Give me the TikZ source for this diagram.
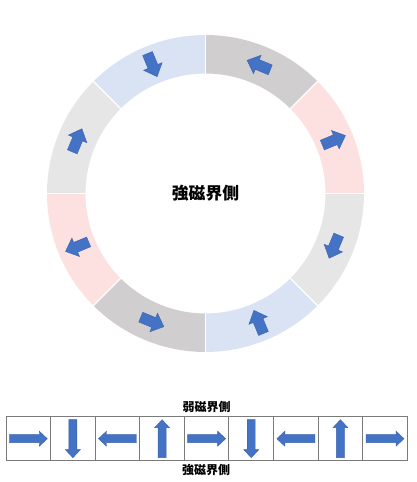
\documentclass[tikz,border=0pt]{standalone}
\usepackage{fontspec}
\newfontfamily\cjk{Noto Sans CJK JP}
\definecolor{segblue}{HTML}{DAE3F3}
\definecolor{seggray}{HTML}{D0CECE}
\definecolor{segpink}{HTML}{FDE0E0}
\definecolor{seglight}{HTML}{E7E6E6}
\definecolor{arrowfill}{HTML}{4472C4}
\definecolor{arrowedge}{HTML}{3A63AE}
\definecolor{cellline}{HTML}{7A7A7A}
\tikzset{
  arrowstyle/.style={fill=arrowfill, draw=arrowedge, line width=0.4pt, line join=miter},
  pics/barrow/.style n args={4}{code={%
    \filldraw[arrowstyle] (-#1/2,-#2/2) -- (#1/2-#4,-#2/2) -- (#1/2-#4,-#3/2) -- (#1/2,0)
      -- (#1/2-#4,#3/2) -- (#1/2-#4,#2/2) -- (-#1/2,#2/2) -- cycle;}},
  cellbox/.style={draw=cellline, line width=1pt, minimum width=44.59pt, minimum height=44pt, inner sep=0pt, outer sep=0pt},
  bigtext/.style={font=\cjk\bfseries\fontsize{16.8}{18}\selectfont, inner sep=0pt},
  smalltext/.style={font=\cjk\bfseries\fontsize{12}{14}\selectfont, inner sep=0pt}
}
\begin{document}
\begin{tikzpicture}[x=1pt,y=1pt]
\useasboundingbox (0,0) rectangle (417,482);
\coordinate (c) at (205.5,288.5);
% ring segments
\foreach \a/\col in {90/segblue, 45/seggray, 0/segpink, -45/seglight, -90/segblue, -135/seggray, 180/segpink, 135/seglight}
  \fill[\col] ([shift={(\a:158.5)}]c) arc[start angle=\a, end angle=\a+45, radius=158.5]
    -- ([shift={(\a+45:120)}]c) arc[start angle=\a+45, end angle=\a, radius=120] -- cycle;
\foreach \a in {0,45,...,315}
  \draw[white, line width=1.3pt] ([shift={(\a:119)}]c) -- ([shift={(\a:159.5)}]c);
% ring arrows
\foreach \t/\d in {112.5/-67.5, 67.5/157.5, 22.5/22.5, -22.5/-112.5, -67.5/112.5, -112.5/-22.5, -157.5/-157.5, 157.5/67.5}
  \pic[rotate=\d] at ([shift={(\t:139)}]c) {barrow={25}{10.5}{20}{11}};
\node[bigtext] (center) at (c) {強磁界側};
% linear array
\foreach \i/\d in {0/0, 1/-90, 2/180, 3/90, 4/0, 5/-90, 6/180, 7/90, 8/0} {
  \node[cellbox] (cell\i) at ({6+44.59*\i+22.295},43.3) {};
  \pic[rotate=\d] at (cell\i.center) {barrow={38}{8}{15}{8}};
}
\node[smalltext] (weak) at (206.5,75.5) {弱磁界側};
\node[smalltext] (strong) at (206,12) {強磁界側};
\end{tikzpicture}
\end{document}
